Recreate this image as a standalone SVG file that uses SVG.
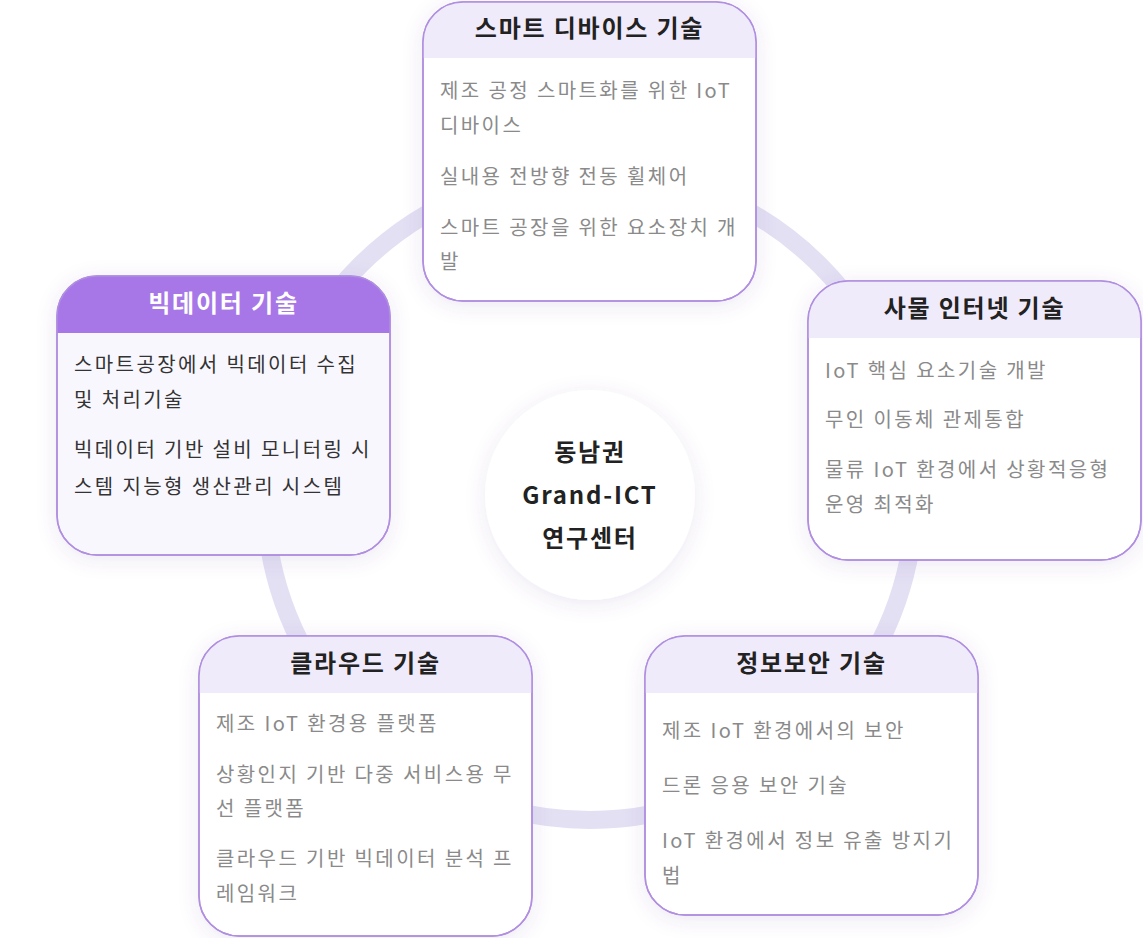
<svg xmlns="http://www.w3.org/2000/svg" width="1143" height="938" viewBox="0 0 1143 938">
<style>
text{font-family:"Noto Sans CJK KR","Noto Sans",sans-serif}
.t{font-size:24px;font-weight:700;fill:#222;text-anchor:middle;letter-spacing:1.8px}
.i{font-size:20px;fill:#8a8a8a;letter-spacing:2.4px}
.d{fill:#333}
.card{fill:#fff;stroke:#b08ee0;stroke-width:1.5}
.hd{fill:#f0ebfa}
</style>
<defs>
<filter id="sh" x="-30%" y="-30%" width="160%" height="160%"><feDropShadow dx="0" dy="4" stdDeviation="10" flood-color="#6a50a0" flood-opacity="0.12"/></filter>
<clipPath id="c1"><rect x="423" y="2" width="333" height="299" rx="40"/></clipPath>
<clipPath id="c2"><rect x="808" y="281" width="333" height="279" rx="40"/></clipPath>
<clipPath id="c3"><rect x="57" y="276" width="333" height="279" rx="40"/></clipPath>
<clipPath id="c4"><rect x="199" y="636" width="333" height="300" rx="40"/></clipPath>
<clipPath id="c5"><rect x="645" y="636" width="333" height="279" rx="40"/></clipPath>
</defs>
<g id="connectors"><circle cx="590" cy="495" r="325" fill="none" stroke="#e3e0f3" stroke-width="18"/></g>
<g id="center"><circle cx="590" cy="495" r="105" fill="#fff" filter="url(#sh)"/>
<text class="t" x="590" y="461">동남권</text><text class="t" x="590" y="504">Grand-ICT</text><text class="t" x="590" y="547">연구센터</text></g>
<g id="smart-device"><rect class="card" x="423" y="2" width="333" height="299" rx="40" filter="url(#sh)"/>
<rect class="hd" x="423" y="2" width="333" height="56" clip-path="url(#c1)"/><rect x="423" y="2" width="333" height="299" rx="40" fill="none" stroke="#b08ee0" stroke-width="1.5"/>
<text class="t" x="589.500" y="37">스마트 디바이스 기술</text>
<text class="i" x="440" y="98">제조 공정 스마트화를 위한 IoT</text><text class="i" x="440" y="133">디바이스</text>
<text class="i" x="440" y="184">실내용 전방향 전동 휠체어</text>
<text class="i" x="440" y="235">스마트 공장을 위한 요소장치 개</text><text class="i" x="440" y="269">발</text></g>
<g id="iot"><rect class="card" x="808" y="281" width="333" height="279" rx="40" filter="url(#sh)"/>
<rect class="hd" x="808" y="281" width="333" height="57" clip-path="url(#c2)"/><rect x="808" y="281" width="333" height="279" rx="40" fill="none" stroke="#b08ee0" stroke-width="1.5"/>
<text class="t" x="974.500" y="317">사물 인터넷 기술</text>
<text class="i" x="825" y="378">IoT 핵심 요소기술 개발</text>
<text class="i" x="825" y="427">무인 이동체 관제통합</text>
<text class="i" x="825" y="477">물류 IoT 환경에서 상황적응형</text><text class="i" x="825" y="512">운영 최적화</text></g>
<g id="bigdata"><rect x="57" y="276" width="333" height="279" rx="40" fill="#f9f7fe" stroke="#b08ee0" stroke-width="1.5" filter="url(#sh)"/>
<rect x="57" y="276" width="333" height="57" fill="#a777e8" clip-path="url(#c3)"/><rect x="57" y="276" width="333" height="279" rx="40" fill="none" stroke="#b08ee0" stroke-width="1.5"/>
<text class="t" x="223.500" y="312" style="fill:#fff">빅데이터 기술</text>
<text class="i d" x="74" y="372">스마트공장에서 빅데이터 수집</text><text class="i d" x="74" y="407">및 처리기술</text>
<text class="i d" x="74" y="457">빅데이터 기반 설비 모니터링 시</text><text class="i d" x="74" y="494">스템 지능형 생산관리 시스템</text></g>
<g id="cloud"><rect class="card" x="199" y="636" width="333" height="300" rx="40" filter="url(#sh)"/>
<rect class="hd" x="199" y="636" width="333" height="57" clip-path="url(#c4)"/><rect x="199" y="636" width="333" height="300" rx="40" fill="none" stroke="#b08ee0" stroke-width="1.5"/>
<text class="t" x="365.500" y="672">클라우드 기술</text>
<text class="i" x="216" y="731">제조 IoT 환경용 플랫폼</text>
<text class="i" x="216" y="782">상황인지 기반 다중 서비스용 무</text><text class="i" x="216" y="816">선 플랫폼</text>
<text class="i" x="216" y="866">클라우드 기반 빅데이터 분석 프</text><text class="i" x="216" y="901">레임워크</text></g>
<g id="security"><rect class="card" x="645" y="636" width="333" height="279" rx="40" filter="url(#sh)"/>
<rect class="hd" x="645" y="636" width="333" height="57" clip-path="url(#c5)"/><rect x="645" y="636" width="333" height="279" rx="40" fill="none" stroke="#b08ee0" stroke-width="1.5"/>
<text class="t" x="811.500" y="672">정보보안 기술</text>
<text class="i" x="662" y="738">제조 IoT 환경에서의 보안</text>
<text class="i" x="662" y="793">드론 응용 보안 기술</text>
<text class="i" x="662" y="848">IoT 환경에서 정보 유출 방지기</text><text class="i" x="662" y="883">법</text></g>
</svg>
